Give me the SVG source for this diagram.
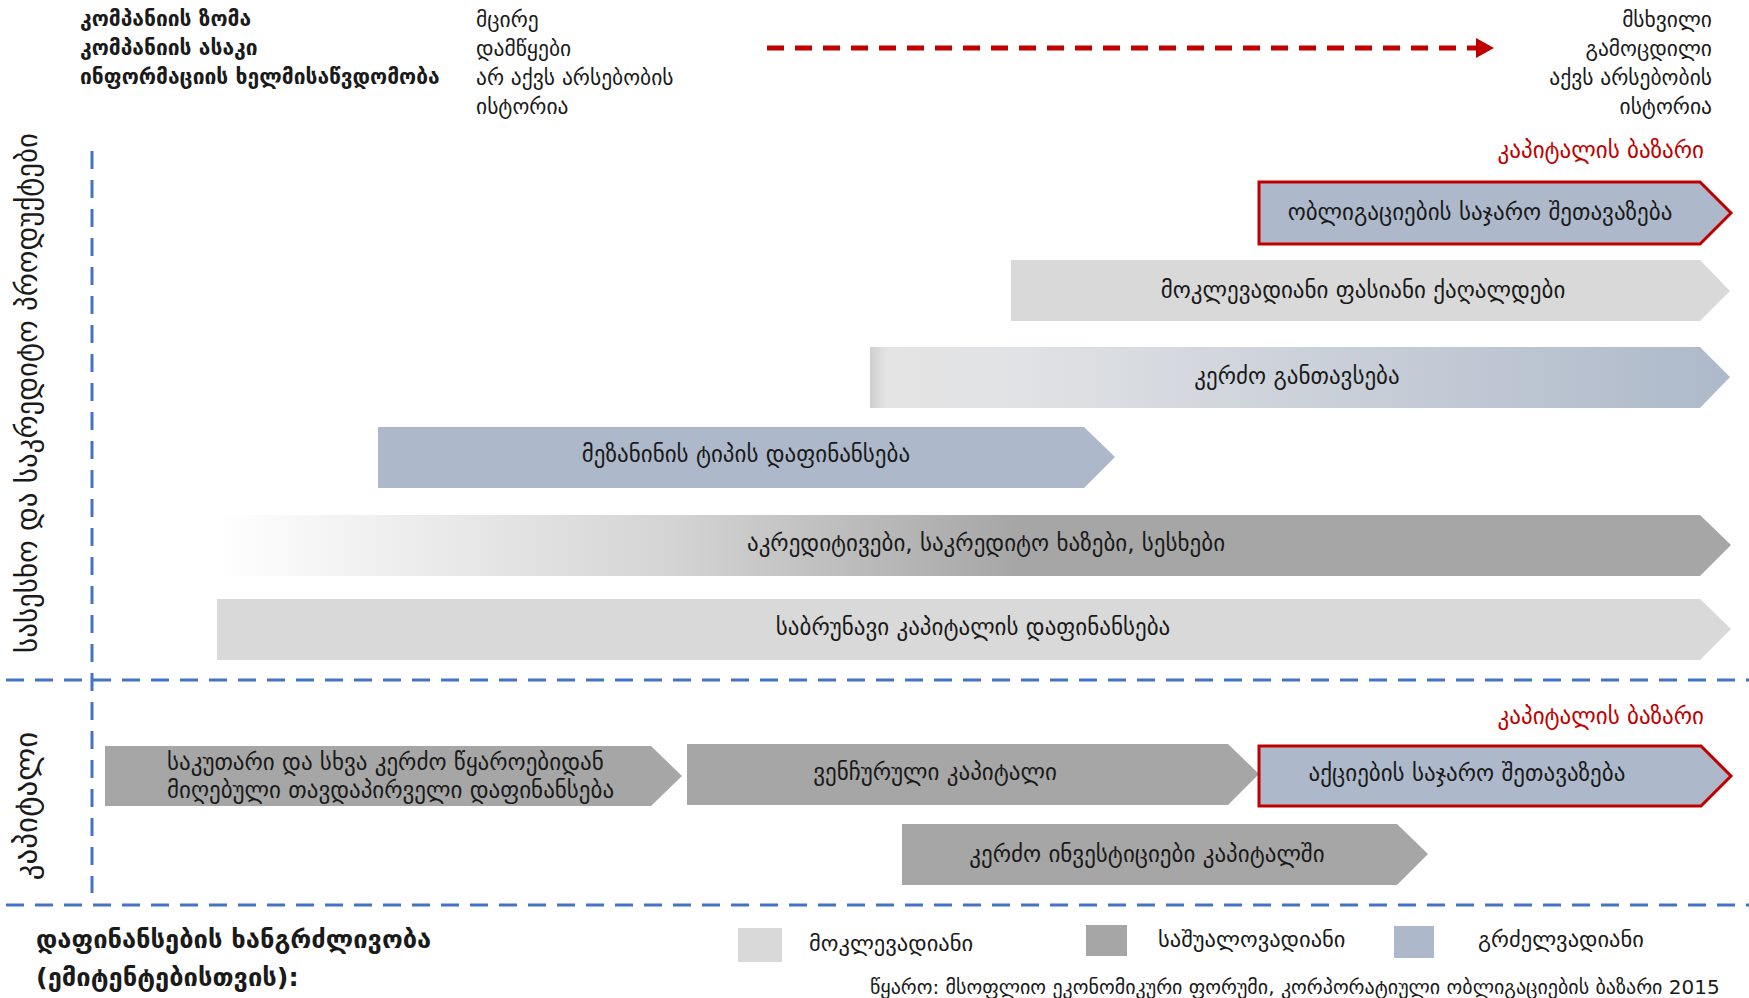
<svg xmlns="http://www.w3.org/2000/svg" width="1749" height="998" viewBox="0 0 1749 998">
<style>
text { font-family: "DejaVu Sans", "Noto Sans", sans-serif; fill: #1a1a1a; }
.hb { font-size: 21px; font-weight: bold; }
.hr { font-size: 21.5px; }
.lbl { font-size: 23px; text-anchor: middle; }
.side { font-size: 29px; text-anchor: middle; }
.red { font-size: 23px; fill: #C00000; text-anchor: end; }
.leg { font-size: 22.5px; }
.legt { font-size: 25.5px; font-weight: bold; }
.src { font-size: 20px; }
.axis { stroke: #4472C4; stroke-width: 3; fill: none; stroke-dasharray: 18 11; }
.lg { fill: #D9D9D9; }
.md { fill: #A6A6A6; }
.bl { fill: #ADB9CA; }
.pub { fill: #ADB9CA; stroke: #C00000; stroke-width: 3; }
</style>
<defs>
<linearGradient id="gPriv" x1="0" y1="0" x2="1" y2="0">
<stop offset="0" stop-color="#CFCFCF"/>
<stop offset="0.02" stop-color="#E4E4E4"/>
<stop offset="0.15" stop-color="#E2E3E5"/>
<stop offset="1" stop-color="#ADB9CA"/>
</linearGradient>
<linearGradient id="gLoan" x1="0" y1="0" x2="1" y2="0">
<stop offset="0" stop-color="#FFFFFF"/>
<stop offset="0.3" stop-color="#D4D4D4"/>
<stop offset="0.53" stop-color="#A6A6A6"/>
<stop offset="1" stop-color="#A6A6A6"/>
</linearGradient>
</defs>

<g id="header">
<text class="hb" x="80" y="26">კომპანიის ზომა</text>
<text class="hb" x="80" y="55">კომპანიის ასაკი</text>
<text class="hb" x="80" y="84">ინფორმაციის ხელმისაწვდომობა</text>
<text class="hr" x="476" y="27">მცირე</text>
<text class="hr" x="476" y="56">დამწყები</text>
<text class="hr" x="476" y="85">არ აქვს არსებობის</text>
<text class="hr" x="476" y="114">ისტორია</text>
<text class="hr" x="1712" y="27" text-anchor="end">მსხვილი</text>
<text class="hr" x="1712" y="56" text-anchor="end">გამოცდილი</text>
<text class="hr" x="1712" y="85" text-anchor="end">აქვს არსებობის</text>
<text class="hr" x="1712" y="114" text-anchor="end">ისტორია</text>
</g>

<g id="connectors">
<line x1="767" y1="48" x2="1477" y2="48" stroke="#C00000" stroke-width="5" stroke-dasharray="17 11"/>
<polygon points="1476,38 1494,48 1476,58" fill="#C00000"/>
<line class="axis" x1="92" y1="151" x2="92" y2="893"/>
<line class="axis" x1="6" y1="680" x2="1749" y2="680"/>
<line class="axis" x1="6" y1="905" x2="1749" y2="905"/>
</g>

<g id="section-labels">
<text class="side" transform="translate(37,393) rotate(-90)">სასესხო და საკრედიტო პროდუქტები</text>
<text class="side" transform="translate(37,806) rotate(-90)" style="font-size:31px">კაპიტალი</text>
<text class="red" x="1704" y="158">კაპიტალის ბაზარი</text>
<text class="red" x="1704" y="724">კაპიტალის ბაზარი</text>
</g>

<g id="bond-offering">
<polygon class="pub" points="1259,182 1700,182 1731,213 1700,244 1259,244"/>
<text class="lbl" x="1480" y="220">ობლიგაციების საჯარო შეთავაზება</text>
</g>
<g id="short-term-securities">
<polygon class="lg" points="1011,260 1700,260 1730,291 1700,321 1011,321"/>
<text class="lbl" x="1363" y="298">მოკლევადიანი ფასიანი ქაღალდები</text>
</g>
<g id="private-placement">
<polygon fill="url(#gPriv)" points="870,347 1700,347 1730,377 1700,408 870,408"/>
<text class="lbl" x="1297" y="384">კერძო განთავსება</text>
</g>
<g id="mezzanine">
<polygon class="bl" points="378,427 1084,427 1115,457 1084,488 378,488"/>
<text class="lbl" x="746" y="462">მეზანინის ტიპის დაფინანსება</text>
</g>
<g id="loans">
<polygon fill="url(#gLoan)" points="217,515 1700,515 1731,545 1700,576 217,576"/>
<text class="lbl" x="986" y="551">აკრედიტივები, საკრედიტო ხაზები, სესხები</text>
</g>
<g id="working-capital">
<polygon class="lg" points="217,599 1700,599 1731,629 1700,660 217,660"/>
<text class="lbl" x="973" y="635">საბრუნავი კაპიტალის დაფინანსება</text>
</g>

<g id="initial-financing">
<polygon class="md" points="105,746 651,746 682,776 651,806 105,806"/>
<text class="lbl" x="167" y="770" text-anchor="start" style="text-anchor:start">საკუთარი და სხვა კერძო წყაროებიდან</text>
<text class="lbl" x="167" y="798" text-anchor="start" style="text-anchor:start">მიღებული თავდაპირველი დაფინანსება</text>
</g>
<g id="venture-capital">
<polygon class="md" points="687,744 1228,744 1259,774 1228,805 687,805"/>
<text class="lbl" x="935" y="780">ვენჩურული კაპიტალი</text>
</g>
<g id="equity-offering">
<polygon class="pub" points="1259,746 1701,746 1731,776 1701,806 1259,806"/>
<text class="lbl" x="1467" y="781">აქციების საჯარო შეთავაზება</text>
</g>
<g id="private-equity">
<polygon class="md" points="902,824 1397,824 1428,854 1397,885 902,885"/>
<text class="lbl" x="1147" y="862">კერძო ინვესტიციები კაპიტალში</text>
</g>

<g id="legend">
<text class="legt" x="36" y="948">დაფინანსების ხანგრძლივობა</text>
<text class="legt" x="36" y="986">(ემიტენტებისთვის):</text>
<rect class="lg" x="738" y="928" width="44" height="34"/>
<text class="leg" x="809" y="951">მოკლევადიანი</text>
<rect class="md" x="1086" y="925" width="41" height="31"/>
<text class="leg" x="1158" y="947">საშუალოვადიანი</text>
<rect class="bl" x="1394" y="926" width="40" height="32"/>
<text class="leg" x="1478" y="947">გრძელვადიანი</text>
<text class="src" x="870" y="994">წყარო:  მსოფლიო ეკონომიკური ფორუმი, კორპორატიული ობლიგაციების ბაზარი 2015</text>
</g>
</svg>
